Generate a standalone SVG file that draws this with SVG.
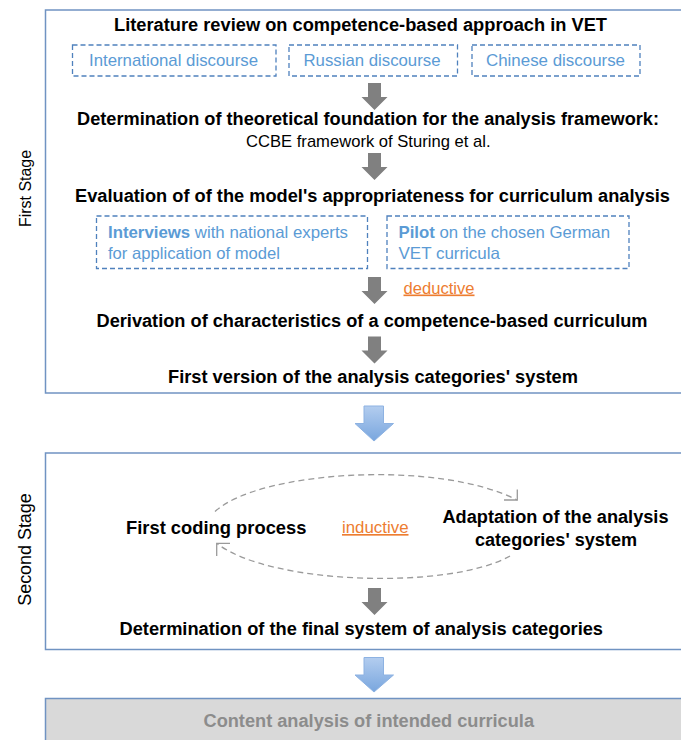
<svg xmlns="http://www.w3.org/2000/svg" width="681" height="740" viewBox="0 0 681 740">
<defs>
<linearGradient id="blueGrad" x1="0" y1="0" x2="0" y2="1">
<stop offset="0" stop-color="#b3cdef"/>
<stop offset="1" stop-color="#79a6de"/>
</linearGradient>
</defs>
<style>
.stage{fill:#ffffff;stroke:#7093c2;stroke-width:1.5}
.dash{fill:none;stroke:#4f81bd;stroke-width:1.3;stroke-dasharray:5 3}
.b{font-family:"Liberation Sans",Arial,sans-serif;font-weight:bold;font-size:18px;fill:#000}
.r{font-family:"Liberation Sans",Arial,sans-serif;font-size:17px;fill:#000}
.blue{font-family:"Liberation Sans",Arial,sans-serif;font-size:16.5px;fill:#5b9bd5}
.bb{font-weight:bold}
.or{font-family:"Liberation Sans",Arial,sans-serif;font-size:16.5px;fill:#ed7d31;text-decoration:underline}
.side{font-family:"Liberation Sans",Arial,sans-serif;font-size:16px;fill:#000}
.garrow{fill:#808080}
.barrow{fill:url(#blueGrad);stroke:#8db2e2;stroke-width:1}
.loop{fill:none;stroke:#9a9a9a;stroke-width:1.3;stroke-dasharray:6 4}
.tip{fill:none;stroke:#9a9a9a;stroke-width:1.3}
</style>

<g id="stage1">
<rect class="stage" x="45.5" y="10" width="650" height="383"/>
<text class="side" transform="translate(31,188.5) rotate(-90)" text-anchor="middle" textLength="77" lengthAdjust="spacingAndGlyphs">First Stage</text>
</g>
<g id="stage2">
<rect class="stage" x="45.5" y="453" width="650" height="196.5"/>
<text class="side" transform="translate(31,549.5) rotate(-90)" text-anchor="middle" style="font-size:17.5px" textLength="112.5" lengthAdjust="spacingAndGlyphs">Second Stage</text>
</g>

<g id="n-literature">
<text class="b" x="114" y="31" textLength="493" lengthAdjust="spacingAndGlyphs">Literature review on competence-based approach in VET</text>
</g>
<g id="n-international">
<rect class="dash" x="72.5" y="45" width="203.5" height="31"/>
<text class="blue" x="89" y="66" style="font-size:17px" textLength="169" lengthAdjust="spacingAndGlyphs">International discourse</text>
</g>
<g id="n-russian">
<rect class="dash" x="289" y="45" width="168.5" height="31"/>
<text class="blue" x="303.5" y="66" style="font-size:17px" textLength="137" lengthAdjust="spacingAndGlyphs">Russian discourse</text>
</g>
<g id="n-chinese">
<rect class="dash" x="472" y="45" width="168" height="31"/>
<text class="blue" x="486" y="66" style="font-size:17px" textLength="139" lengthAdjust="spacingAndGlyphs">Chinese discourse</text>
</g>
<g id="n-foundation">
<text class="b" x="77" y="125" textLength="582" lengthAdjust="spacingAndGlyphs">Determination of theoretical foundation for the analysis framework:</text>
<text class="r" x="246" y="146.5" textLength="244.5" lengthAdjust="spacingAndGlyphs">CCBE framework of Sturing et al.</text>
</g>
<g id="n-evaluation">
<text class="b" x="75" y="202" textLength="595" lengthAdjust="spacingAndGlyphs">Evaluation of of the model's appropriateness for curriculum analysis</text>
</g>
<g id="n-interviews">
<rect class="dash" x="96.5" y="216" width="271" height="52.5"/>
<text class="blue" x="108" y="238" textLength="240" lengthAdjust="spacingAndGlyphs"><tspan class="bb">Interviews</tspan> with national experts</text>
<text class="blue" x="108" y="258.5" textLength="172" lengthAdjust="spacingAndGlyphs">for application of model</text>
</g>
<g id="n-pilot">
<rect class="dash" x="387" y="216" width="242" height="52.5"/>
<text class="blue" x="398.5" y="238" textLength="211.5" lengthAdjust="spacingAndGlyphs"><tspan class="bb">Pilot</tspan> on the chosen German</text>
<text class="blue" x="398.5" y="258.5" textLength="101.5" lengthAdjust="spacingAndGlyphs">VET curricula</text>
</g>
<g id="n-derivation">
<text class="b" x="96.5" y="327" textLength="551" lengthAdjust="spacingAndGlyphs">Derivation of characteristics of a competence-based curriculum</text>
</g>
<g id="n-firstversion">
<text class="b" x="168" y="382.5" textLength="410" lengthAdjust="spacingAndGlyphs">First version of the analysis categories' system</text>
</g>
<g id="n-coding">
<text class="b" x="126" y="533.5" textLength="180.5" lengthAdjust="spacingAndGlyphs">First coding process</text>
</g>
<g id="n-adaptation">
<text class="b" x="442.5" y="523" textLength="226" lengthAdjust="spacingAndGlyphs">Adaptation of the analysis</text>
<text class="b" x="475" y="545.5" textLength="162" lengthAdjust="spacingAndGlyphs">categories' system</text>
</g>
<g id="n-final">
<text class="b" x="119.5" y="635" textLength="483.5" lengthAdjust="spacingAndGlyphs">Determination of the final system of analysis categories</text>
</g>
<g id="n-content">
<rect x="45.5" y="698.5" width="650" height="60" fill="#d9d9d9" stroke="#7093c2" stroke-width="1.5"/>
<text class="b" x="203.5" y="727" style="fill:#8c8c8c" textLength="330.5" lengthAdjust="spacingAndGlyphs">Content analysis of intended curricula</text>
</g>

<g id="connectors">
<path class="garrow" d="M368,83 H381 V97 H387.5 L374.5,110 L361.5,97 H368 Z"/>
<path class="garrow" d="M368,153 H381 V167 H387.5 L374.5,180 L361.5,167 H368 Z"/>
<path class="garrow" d="M368,277 H381 V291 H387.5 L374.5,304 L361.5,291 H368 Z"/>
<path class="garrow" d="M368,336.5 H381 V350.5 H387.5 L374.5,363.5 L361.5,350.5 H368 Z"/>
<path class="garrow" d="M368,588 H381 V602 H387.5 L374.5,615 L361.5,602 H368 Z"/>
<path class="barrow" d="M364,406 H383.5 V423.5 H393.5 L374,441 L355,423.5 H364 Z"/>
<path class="barrow" d="M364,657.5 H383.5 V675 H393.5 L374,692 L355,675 H364 Z"/>
<path class="loop" d="M215,511.5 C260,470 440,460 517,500"/>
<path class="tip" d="M504,500 H517.3 V489.5"/>
<path class="loop" d="M510,556 C450,590 270,585 217,543.5"/>
<path class="tip" d="M230,543.3 H216.7 V556"/>
<text class="or" x="403.5" y="293.5" textLength="71" lengthAdjust="spacingAndGlyphs">deductive</text>
<text class="or" x="342" y="533" textLength="66.5" lengthAdjust="spacingAndGlyphs">inductive</text>
</g>
</svg>
